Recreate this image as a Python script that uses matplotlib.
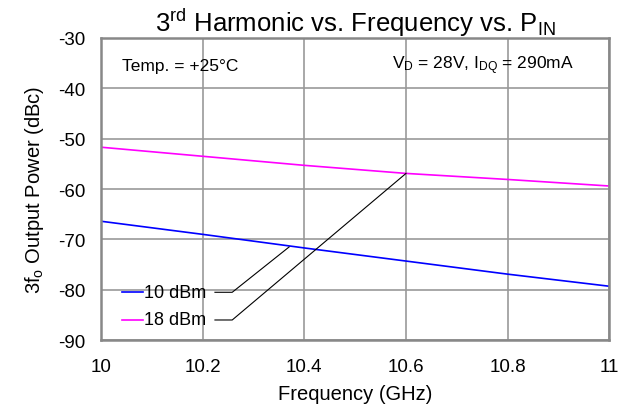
import matplotlib
matplotlib.use("Agg")
import matplotlib.pyplot as plt

plt.rcParams['font.family'] = ['Liberation Sans', 'DejaVu Sans']
plt.rcParams['mathtext.fontset'] = 'custom'
plt.rcParams['mathtext.rm'] = 'Liberation Sans'
plt.rcParams['mathtext.it'] = 'Liberation Sans'
plt.rcParams['axes.unicode_minus'] = False

# data
freq = [10.0, 10.2, 10.4, 10.6, 10.8, 11.0]
p10 = [-66.4, -69.0, -71.7, -74.3, -76.9, -79.3]
p18 = [-51.7, -53.5, -55.3, -56.9, -58.1, -59.4]
labels = ["10 dBm", "18 dBm"]
colors = ["#0000ff", "#ff00ff"]
xticks = [10, 10.2, 10.4, 10.6, 10.8, 11]
xticklabels = ["10", "10.2", "10.4", "10.6", "10.8", "11"]
yticks = [-90, -80, -70, -60, -50, -40, -30]

fig = plt.figure(figsize=(6.32, 4.14), dpi=100)
ax = fig.add_axes([0.160, 0.176, 0.804, 0.730])

ax.plot(freq, p10, color=colors[0], lw=1.2)
ax.plot(freq, p18, color=colors[1], lw=1.2)

ax.set_xlim(10, 11)
ax.set_ylim(-90, -30)
ax.set_xticks(xticks)
ax.set_xticklabels(xticklabels)
ax.set_yticks(yticks)
ax.tick_params(axis="x", length=0, labelsize=13.5, pad=13)
ax.tick_params(axis="y", length=0, labelsize=13.5, pad=11)
ax.grid(True, color="#999999", lw=1.2)
for s in ax.spines.values():
    s.set_color("#888888")
    s.set_linewidth(1.8)

ax.set_xlabel("Frequency (GHz)", fontsize=14.5, labelpad=6)
ax.set_ylabel(r"3f$_\mathregular{o}$ Output Power (dBc)", fontsize=14.5, labelpad=9)
ax.set_title(r"3$^\mathregular{rd}$ Harmonic vs. Frequency vs. P$_\mathregular{IN}$",
             fontsize=18.5, pad=4)

ax.text(10.041, -35.4, "Temp. = +25°C", fontsize=12.5, va="center")
ax.text(10.93, -35.4, r"V$_\mathregular{D}$ = 28V, I$_\mathregular{DQ}$ = 290mA",
        fontsize=12.5, ha="right", va="center")

# legend with leader lines
leg_y = [-80.5, -86.0]
targets = [(10.37, -71.5), (10.6, -56.9)]
for lab, c, y, (tx, ty) in zip(labels, colors, leg_y, targets):
    ax.plot([10.041, 10.083], [y, y], color=c, lw=1.2)
    ax.text(10.085, y, lab, fontsize=13, va="center")
    ax.plot([10.224, 10.258, tx], [y, y, ty], color="black", lw=0.8)

fig.savefig("out.png", dpi=100)
